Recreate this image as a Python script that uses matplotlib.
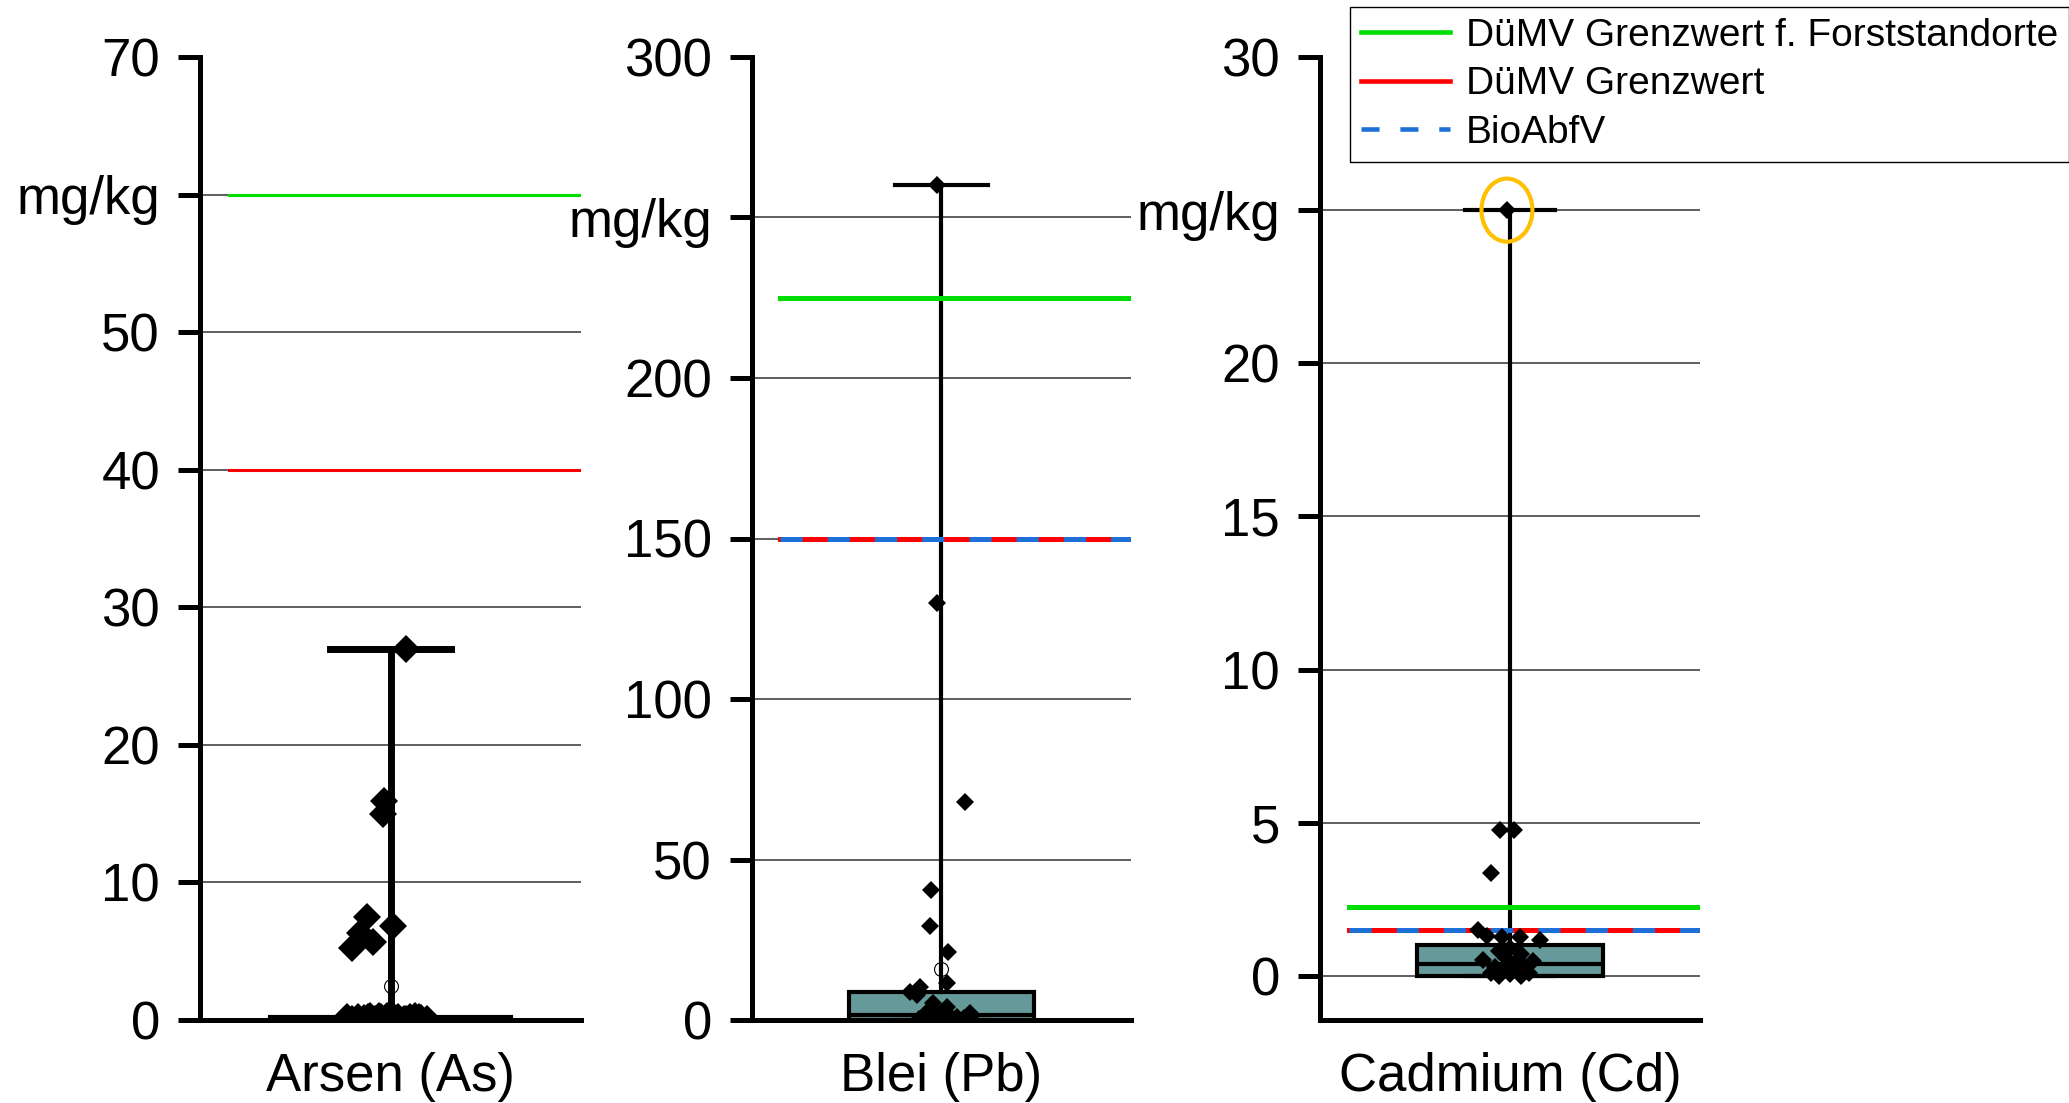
import matplotlib
matplotlib.use("Agg")
import matplotlib.pyplot as plt
from matplotlib.lines import Line2D
from matplotlib.patches import Ellipse

plt.rcParams['font.family'] = ['Liberation Sans', 'DejaVu Sans']
plt.rcParams['lines.scale_dashes'] = False

TEAL = '#669999'
GREEN = '#00DD00'
RED = '#FF0000'
BLUE = '#1F6FD9'

# --- data (mg/kg) ---
elements = ['Arsen (As)', 'Blei (Pb)', 'Cadmium (Cd)']

as_values = [27.0, 15.9, 15.0, 7.5, 6.8, 6.3, 5.7, 5.2,
             0.2, 0.1, 0.25, 0.15, 0.3, 0.1, 0.2, 0.3, 0.15, 0.25,
             0.1, 0.2, 0.3, 0.15, 0.05, 0.2, 0.25, 0.1, 0.3, 0.2]
as_jitter = [0.041, -0.017, -0.020, -0.062, 0.007, -0.080, -0.046, -0.101,
             -0.114, -0.10, -0.085, -0.07, -0.055, -0.04, -0.025, -0.01, 0.005, 0.02,
             0.035, 0.05, 0.065, 0.08, 0.096, -0.06, 0.01, 0.04, -0.03, 0.075]

pb_values = [260, 130, 68, 40.5, 29.3, 21.2, 11.5, 10.3, 8.7, 7.8, 5.3, 4.0, 2.5, 2.2, 1.6,
             3.0, 2.0, 1.2, 0.8, 0.5, 0.3, 1.0, 0.6, 0.4, 0.2, 1.5, 0.7]
pb_jitter = [-0.012, -0.012, 0.062, -0.028, -0.030, 0.017, 0.015, -0.057, -0.083, -0.065,
             -0.022, 0.015, -0.038, 0.075, -0.004,
             -0.03, 0.0, 0.02, -0.045, -0.015, 0.01, 0.04, 0.06, -0.06, 0.03, -0.01, 0.075]

cd_values = [25.0, 4.77, 4.77, 3.37, 1.5, 1.27, 1.27, 1.18, 1.3, 0.52, 0.5,
             0.9, 0.8, 0.7, 0.6, 0.4, 0.3, 0.3, 0.2, 0.2, 0.1, 0.1, 0.05, 0.0, 0.0, 0.15]
cd_jitter = [-0.008, -0.026, 0.011, -0.050, -0.084, -0.021, 0.026, 0.079, -0.060, -0.070, 0.060,
             0.0, -0.03, 0.03, -0.01, 0.01, -0.04, 0.04, -0.02, 0.02, -0.05, 0.05, 0.0, -0.03, 0.03, 0.0]

# box statistics as drawn in the reference
box_q1 = [0.0, 0.0, 0.0]
box_med = [0.05, 1.5, 0.4]
box_q3 = [0.2, 8.7, 1.0]
whisker_lo = [0.0, 0.0, 0.0]
whisker_hi = [27.0, 260.0, 25.0]
box_mean = [2.5, 15.9, None]

# limit values
forst_limit = [60, 225, 2.25]
duemv_limit = [40, 150, 1.5]
bioabfv_limit = [None, 150, 1.5]

# axis setup
y_max = [70, 300, 30]
y_min = [0, 0, -1.44]
y_step = [10, 50, 5]
unit_tick = [60, 250, 25]

values = [as_values, pb_values, cd_values]
jitters = [as_jitter, pb_jitter, cd_jitter]

W, H = 2069, 1103
fig = plt.figure(figsize=(W / 100, H / 100), dpi=100)

axes_px = [(200, 381), (752, 379), (1320, 380)]
top_px, bottom_px = 57, 1020

box_widths = [0.635, 0.49, 0.49]
cap_widths = [0.315, 0.243, 0.237]
whisker_lw = [5.0, 3.0, 3.0]
marker_size = [14, 9, 9]
limit_lw = [2.2, 3.6, 3.6]

for i, name in enumerate(elements):
    x0, w = axes_px[i]
    ax = fig.add_axes([x0 / W, (H - bottom_px) / H, w / W, (bottom_px - top_px) / H])
    ax.set_xlim(-0.5, 0.5)
    ax.set_ylim(y_min[i], y_max[i])

    ticks = list(range(0, y_max[i] + 1, y_step[i]))
    labels = ['mg/kg' if t == unit_tick[i] else str(t) for t in ticks]
    ax.set_yticks(ticks)
    ax.set_yticklabels(labels)
    ax.set_xticks([])
    ax.set_axisbelow(True)
    ax.yaxis.grid(True, color='#333333', linewidth=1.1)
    ax.get_ygridlines()[-1].set_visible(False)

    for side in ('top', 'right'):
        ax.spines[side].set_visible(False)
    for side in ('left', 'bottom'):
        ax.spines[side].set_linewidth(3.6)
        ax.spines[side].set_color('black')
    ax.tick_params(axis='y', length=15.8, width=3.6, pad=13, labelsize=38)
    ax.set_xlabel(name, fontsize=38, labelpad=23)

    stats = dict(q1=box_q1[i], med=box_med[i], q3=box_q3[i],
                 whislo=whisker_lo[i], whishi=whisker_hi[i])
    if box_mean[i] is not None:
        stats['mean'] = box_mean[i]
    ax.bxp([stats], positions=[0], widths=box_widths[i], capwidths=cap_widths[i],
           patch_artist=True, showfliers=False, manage_ticks=False,
           showmeans=box_mean[i] is not None,
           boxprops=dict(facecolor=TEAL, edgecolor='black', linewidth=3),
           medianprops=dict(color='black', linewidth=3),
           whiskerprops=dict(color='black', linewidth=whisker_lw[i]),
           capprops=dict(color='black', linewidth=whisker_lw[i]),
           meanprops=dict(marker='o', markerfacecolor='none', markeredgecolor='black',
                          markersize=10, markeredgewidth=0.8, zorder=6))

    ax.axhline(forst_limit[i], xmin=0.075, xmax=1, color=GREEN, lw=limit_lw[i], zorder=3)
    ax.axhline(duemv_limit[i], xmin=0.075, xmax=1, color=RED, lw=limit_lw[i], zorder=3)
    if bioabfv_limit[i] is not None:
        ax.axhline(bioabfv_limit[i], xmin=0.075, xmax=1, color=BLUE, lw=limit_lw[i],
                   dashes=(16, 18), zorder=3)

    ax.plot(jitters[i], values[i], linestyle='none', marker='D', color='black',
            markersize=marker_size[i], markeredgewidth=0, zorder=5)

    if i == 2:
        top_i = values[i].index(max(values[i]))
        ax.add_patch(Ellipse((jitters[i][top_i], values[i][top_i]), 0.134, 2.06,
                             fill=False, edgecolor='#FFC000', linewidth=3, zorder=7))

handles = [Line2D([], [], color=GREEN, lw=3.3),
           Line2D([], [], color=RED, lw=3.3),
           Line2D([], [], color=BLUE, lw=3.3, dashes=(13, 15))]
leg = fig.legend(handles, ['DüMV Grenzwert f. Forststandorte', 'DüMV Grenzwert', 'BioAbfV'],
                 loc='upper left', bbox_to_anchor=(1350 / W, 1 - 7 / H), borderaxespad=0,
                 fontsize=28, handlelength=2.3, handletextpad=0.4, labelspacing=0.32,
                 borderpad=0.28, fancybox=False, framealpha=1)
leg.get_frame().set_edgecolor('black')
leg.get_frame().set_linewidth(1)

fig.savefig('out.png', dpi=100)
